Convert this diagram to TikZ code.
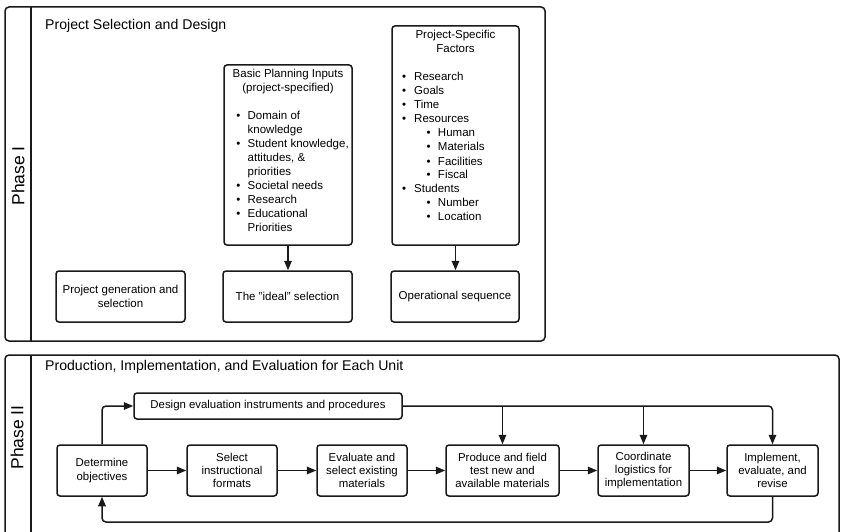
\documentclass[tikz,border=0pt]{standalone}
\usepackage{fontspec}
\setmainfont{Liberation Sans}
\usetikzlibrary{arrows.meta}
\newcommand\bul[3]{\hspace*{#1}\makebox[#2][l]{\textbullet}#3}
\newcommand\cont[2]{\hspace*{#1}#2}
\begin{document}
\begin{tikzpicture}[x=1pt,y=-1pt,
  frame/.style={draw=black!90, line width=1.5pt, rounded corners=4pt},
  box/.style={draw=black!90, line width=1.5pt, rounded corners=3pt, inner sep=0pt, align=center,
    font=\fontsize{11.4}{13.3}\selectfont},
  arr/.style={draw=black!90, line width=1.5pt, -{Triangle[length=9.5pt,width=7.5pt]}},
  line/.style={draw=black!90, line width=1.5pt},
  phase/.style={rotate=90, inner sep=0pt, font=\fontsize{17.5}{20}\selectfont},
  title/.style={anchor=base west, inner sep=0pt, font=\fontsize{14.1}{16}\selectfont}]
\useasboundingbox (0,0) rectangle (841,532);
\fill[white] (0,0) rectangle (841,532);
\clip (0,0) rectangle (841,532);

% ---------------- Phase I ----------------
\draw[frame] (5,7) rectangle (545,341);
\draw[line] (31,7) -- (31,341);
\node[phase] (ph1) at (18,176) {Phase I};
\node[title] (t1) at (45,30) {Project Selection and Design};

\node[box] (basic) at (288,155) {\parbox[c][180pt][t]{128pt}{\fontsize{11.5}{14}\selectfont\raggedright
\makebox[128pt][c]{\rule{0pt}{12.5pt}Basic Planning Inputs}\\
\makebox[128pt][c]{(project-specified)}\\
\mbox{}\\
\bul{12.4pt}{11.3pt}{Domain of}\\
\cont{23.7pt}{knowledge}\\
\bul{12.4pt}{11.3pt}{Student knowledge,}\\
\cont{23.7pt}{attitudes, \&}\\
\cont{23.7pt}{priorities}\\
\bul{12.4pt}{11.3pt}{Societal needs}\\
\bul{12.4pt}{11.3pt}{Research}\\
\bul{12.4pt}{11.3pt}{Educational}\\
\cont{23.7pt}{Priorities}}};

\node[box] (factors) at (455.5,135.5) {\parbox[c][219pt][t]{127pt}{\fontsize{11.5}{14}\selectfont\raggedright
\makebox[127pt][c]{\rule{0pt}{13pt}Project-Specific}\\
\makebox[127pt][c]{Factors}\\
\mbox{}\\
\bul{10.2pt}{12pt}{Research}\\
\bul{10.2pt}{12pt}{Goals}\\
\bul{10.2pt}{12pt}{Time}\\
\bul{10.2pt}{12pt}{Resources}\\
\bul{34.5pt}{11.5pt}{Human}\\
\bul{34.5pt}{11.5pt}{Materials}\\
\bul{34.5pt}{11.5pt}{Facilities}\\
\bul{34.5pt}{11.5pt}{Fiscal}\\
\bul{10.2pt}{12pt}{Students}\\
\bul{34.5pt}{11.5pt}{Number}\\
\bul{34.5pt}{11.5pt}{Location}}};

\node[box, minimum width=129pt, minimum height=51pt, font=\fontsize{11.5}{14}\selectfont] (gen) at (120.5,296.5) {Project generation and\\selection};
\node[box, minimum width=129pt, minimum height=51pt, font=\fontsize{11.5}{14}\selectfont] (ideal) at (287.5,296.5) {The "ideal" selection};
\node[box, minimum width=128pt, minimum height=51pt, font=\fontsize{11.5}{14}\selectfont] (oper) at (455,296.5) {Operational sequence};

\draw[arr] (basic.south) -- (basic.south |- ideal.north);
\draw[arr] (factors.south) -- (factors.south |- oper.north);

% ---------------- Phase II ----------------
\draw[frame] (5,355) rectangle (839,580);
\draw[line] (31,355) -- (31,580);
\node[phase] (ph2) at (17,437.5) {Phase II};
\node[title] (t2) at (45,370.7) {Production, Implementation, and Evaluation for Each Unit};

\node[box, minimum width=268pt, minimum height=26pt] (design) at (268,406) {Design evaluation instruments and procedures};
\node[box, minimum width=90pt, minimum height=51pt] (det) at (102,470.5) {Determine\\objectives};
\node[box, minimum width=90pt, minimum height=51pt] (sel) at (232,470.5) {Select\\instructional\\formats};
\node[box, minimum width=90pt, minimum height=51pt] (evl) at (362,470.5) {Evaluate and\\select existing\\materials};
\node[box, minimum width=113pt, minimum height=51pt] (prod) at (502.5,470.5) {Produce and field\\test new and\\available materials};
\node[box, minimum width=91pt, minimum height=51pt] (coord) at (643.5,470.5) {Coordinate\\logistics for\\implementation};
\node[box, minimum width=91pt, minimum height=51pt] (impl) at (772.5,470.5) {Implement,\\evaluate, and\\revise};
\coordinate (fb) at (0,522);

\draw[arr] (det) -- (sel);
\draw[arr] (sel) -- (evl);
\draw[arr] (evl) -- (prod);
\draw[arr] (prod) -- (coord);
\draw[arr] (coord) -- (impl);
\draw[arr, rounded corners=4pt] (det.north) |- (design.west);
\draw[arr, rounded corners=4pt] (design.east) -| (impl.north);
\draw[arr] (prod.north |- design.east) -- (prod.north);
\draw[arr] (coord.north |- design.east) -- (coord.north);
\draw[arr, rounded corners=4pt] (impl.south) -- (impl.south |- fb) -| (det.south);
\end{tikzpicture}
\end{document}
